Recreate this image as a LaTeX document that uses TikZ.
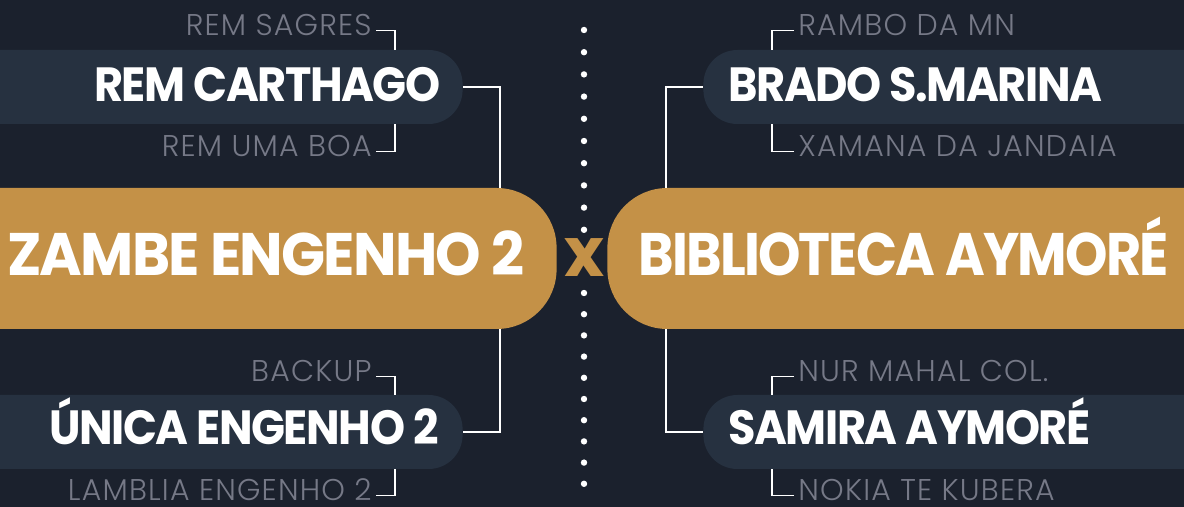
\documentclass[tikz,border=0pt]{standalone}
\usepackage{fontspec}
\setmainfont{Poppins}
\newfontfamily\lightfont{Poppins}[UprightFont={* Light}, LetterSpace=4]
\newfontfamily\negrito{Poppins}[UprightFont={* Bold}, FakeStretch=0.93, LetterSpace=-3]
\newfontfamily\negritolargo{Poppins}[UprightFont={* Bold}, FakeStretch=0.965, LetterSpace=-3]
\newfontfamily\negritoestreito{Poppins}[UprightFont={* Bold}, FakeStretch=0.9, LetterSpace=-3]
\usepackage{xcolor}
\usepackage{tikz}

\definecolor{fundo}{RGB}{27,33,45}
\definecolor{corbarra}{RGB}{38,49,64}
\definecolor{ouro}{RGB}{196,145,71}
\definecolor{cinza}{RGB}{118,121,135}

\begin{document}
\begin{tikzpicture}[x=0.5pt,y=-0.5pt,
    barra/.style={fill=corbarra, minimum height=37pt, minimum width=300pt, rounded corners=17pt, inner sep=0pt},
    final/.style={fill=ouro, minimum height=70.5pt, minimum width=350pt, rounded corners=30pt, inner sep=0pt},
    time/.style={text=white, font=\fontsize{24}{24}\negrito, inner sep=0pt},
    grande/.style={text=white, font=\fontsize{30}{30}\negrito, inner sep=0pt},
    reserva/.style={text=cinza, font=\fontsize{15}{15}\lightfont, inner xsep=2pt, inner ysep=0pt},
    liga/.style={draw=white, line width=0.8pt}]
    \useasboundingbox (0,0) rectangle (1184,507);
    \fill[fundo] (0,0) rectangle (1184,507);
    \clip (0,0) rectangle (1184,507);

    % colunas das ligacoes
    \coordinate (jl) at (500,0);
    \coordinate (jr) at (666,0);
    \coordinate (bl) at (395,0);
    \coordinate (br) at (772,0);

    % lado esquerdo
    \node[barra, anchor=east] (carthagobar) at (463,87) {};
    \node[barra, anchor=east] (unicabar) at (463,432) {};
    \node[final, anchor=east] (zambebar) at (557,258.5) {};

    \node[reserva, anchor=base east] (sagres) at (376,36) {REM SAGRES};
    \node[time, anchor=base east] (carthago) at (441,102) {REM CARTHAGO};
    \node[reserva, anchor=base east] (umaboa) at (376,157) {REM UMA BOA};
    \node[grande, font=\fontsize{30}{30}\negritolargo, anchor=base east] (zambe) at (525,276) {ZAMBE ENGENHO 2};
    \node[reserva, anchor=base east] (backup) at (376,382) {BACKUP};
    \node[time, anchor=base east] (unica) at (439,445) {ÚNICA ENGENHO 2};
    \node[reserva, anchor=base east] (lamblia) at (376,501) {LAMBLIA ENGENHO 2};

    % lado direito
    \node[barra, anchor=west] (bradobar) at (703,87) {};
    \node[barra, anchor=west] (samirabar) at (703,432) {};
    \node[final, anchor=west] (bibliobar) at (607,258.5) {};

    \node[reserva, anchor=base west] (rambo) at (794,36) {RAMBO DA MN};
    \node[time, anchor=base west] (brado) at (728,102) {BRADO S.MARINA};
    \node[reserva, anchor=base west] (xamana) at (794,157) {XAMANA DA JANDAIA};
    \node[grande, font=\fontsize{30}{30}\negritoestreito, anchor=base west] (biblio) at (638,276) {BIBLIOTECA AYMORÉ};
    \node[reserva, anchor=base west] (nurmahal) at (794,382) {NUR MAHAL COL.};
    \node[time, anchor=base west] (samira) at (728,445) {SAMIRA AYMORÉ};
    \node[reserva, anchor=base west] (nokia) at (794,501) {NOKIA TE KUBERA};

    % meio
    \node[text=ouro, font=\fontsize{34}{34}\selectfont\bfseries, inner sep=0pt] (vs) at (584,258) {x};
    \foreach \k in {0,...,9} {
        \fill[white] (584,{30+22.2*\k}) circle (3.2);
        \fill[white] (584,{293+21.2*\k}) circle (3.2);
    }

    % ligacoes
    \draw[liga] (carthagobar.east) -| (jl |- zambebar.north);
    \draw[liga] (zambebar.south -| jl) |- (unicabar.east);
    \draw[liga] (bradobar.west) -| (jr |- bibliobar.north);
    \draw[liga] (bibliobar.south -| jr) |- (samirabar.west);

    \draw[liga] (sagres.mid east) -| (bl |- carthagobar.north);
    \draw[liga] (umaboa.mid east) -| (bl |- carthagobar.south);
    \draw[liga] (backup.mid east) -| (bl |- unicabar.north);
    \draw[liga] (lamblia.mid east) -| (bl |- unicabar.south);
    \draw[liga] (rambo.mid west) -| (br |- bradobar.north);
    \draw[liga] (xamana.mid west) -| (br |- bradobar.south);
    \draw[liga] (nurmahal.mid west) -| (br |- samirabar.north);
    \draw[liga] (nokia.mid west) -| (br |- samirabar.south);
\end{tikzpicture}
\end{document}
